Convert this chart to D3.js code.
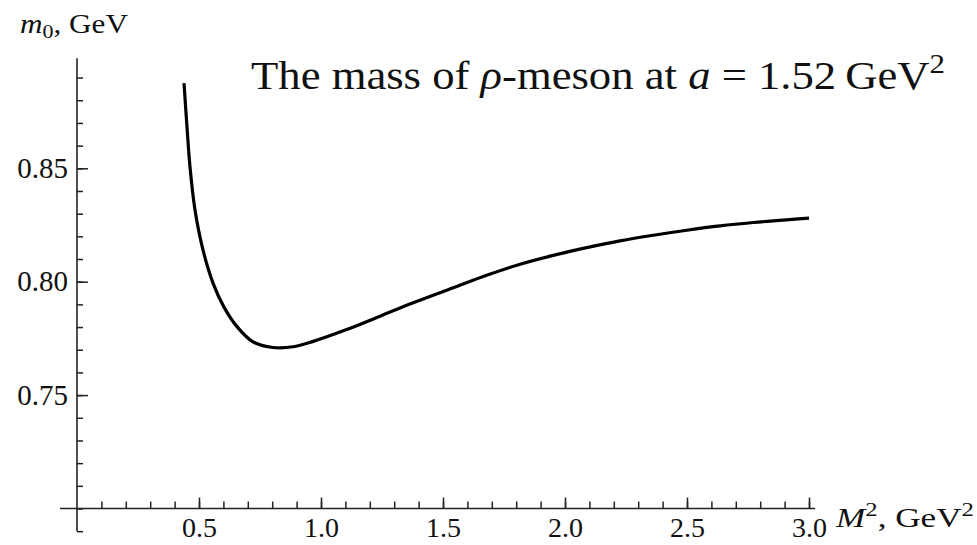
<!DOCTYPE html>
<html>
<head>
<meta charset="utf-8">
<script src="https://cdn.jsdelivr.net/npm/d3@7"></script>
<style>
  html, body { margin: 0; padding: 0; background: #fff; }
  svg { display: block; }
  text { font-family: "Liberation Serif", "Times New Roman", serif; fill: #111; }
</style>
</head>
<body>
<svg id="chart" width="977" height="545"></svg>
<script>
// Borel parameter M^2 (GeV^2) and the resulting rho-meson mass m0 (GeV)
const mSq = [0.4385, 0.4508, 0.4631, 0.4836, 0.5164, 0.5574, 0.6025, 0.6557, 0.7213, 0.8033,
             0.8852, 0.968, 1.105, 1.242, 1.378, 1.542, 1.679, 1.816, 1.952, 2.089,
             2.225, 2.362, 2.499, 2.635, 2.772, 2.908, 3.000];
const m0  = [0.8876, 0.8682, 0.8506, 0.8316, 0.8140, 0.7994, 0.7888, 0.7802, 0.7735, 0.7710,
             0.7713, 0.7737, 0.7789, 0.7848, 0.7907, 0.7973, 0.8028, 0.8077, 0.8116, 0.8150,
             0.8180, 0.8205, 0.8227, 0.8246, 0.8261, 0.8273, 0.8280];

// Tick values
const xMajorTicks = [0.5, 1.0, 1.5, 2.0, 2.5, 3.0];
const xMinorTicks = d3.range(1, 31).map(i => i / 10);
const yMajorTicks = [0.75, 0.80, 0.85];
const yMinorTicks = d3.range(69, 90).map(i => i / 100);

// Axis extents (axes cross at (0, 0.70))
const xAxisExtent = [-0.07, 3.025];
const yAxisExtent = [0.6900, 0.8985];
const xOrigin = 0, yOrigin = 0.70;

const svg = d3.select("#chart");

const x = d3.scaleLinear().domain([0, 3]).range([77, 809]);
const y = d3.scaleLinear().domain([0.70, 0.85]).range([508.5, 168.3]);

const axisColor = "#222";
const tickFont = '"Liberation Serif", serif';

// ---- x axis ----
const gx = svg.append("g").attr("transform", `translate(0,${y(yOrigin)})`);
gx.append("line")
  .attr("x1", x(xAxisExtent[0])).attr("x2", x(xAxisExtent[1]))
  .attr("stroke", axisColor).attr("stroke-width", 1.6);
gx.append("g")
  .call(d3.axisBottom(x).tickValues(xMinorTicks).tickSize(-7).tickSizeOuter(0).tickFormat(""))
  .call(g => g.select(".domain").remove())
  .call(g => g.selectAll(".tick line").attr("stroke", axisColor).attr("stroke-width", 1.5));
gx.append("g")
  .call(d3.axisBottom(x).tickValues(xMajorTicks).tickSize(-11).tickSizeOuter(0)
          .tickPadding(9).tickFormat(d3.format(".1f")))
  .call(g => g.select(".domain").remove())
  .call(g => g.selectAll(".tick line").attr("stroke", axisColor).attr("stroke-width", 1.5))
  .call(g => g.selectAll(".tick text")
              .style("font-family", tickFont)
              .style("font-size", "28px").attr("fill", "#111"));

// ---- y axis ----
const gy = svg.append("g").attr("transform", `translate(${x(xOrigin)},0)`);
gy.append("line")
  .attr("y1", y(yAxisExtent[0])).attr("y2", y(yAxisExtent[1]))
  .attr("stroke", axisColor).attr("stroke-width", 1.6);
gy.append("g")
  .call(d3.axisLeft(y).tickValues(yMinorTicks).tickSize(-6).tickSizeOuter(0).tickFormat(""))
  .call(g => g.select(".domain").remove())
  .call(g => g.selectAll(".tick line").attr("stroke", axisColor).attr("stroke-width", 1.5));
gy.append("g")
  .call(d3.axisLeft(y).tickValues(yMajorTicks).tickSize(-11).tickSizeOuter(0)
          .tickPadding(9).tickFormat(d3.format(".2f")))
  .call(g => g.select(".domain").remove())
  .call(g => g.selectAll(".tick line").attr("stroke", axisColor).attr("stroke-width", 1.5))
  .call(g => g.selectAll(".tick text")
              .style("font-family", tickFont)
              .style("font-size", "29px").attr("fill", "#111"));

// ---- curve ----
const line = d3.line()
  .x((d, i) => x(mSq[i]))
  .y((d, i) => y(m0[i]))
  .curve(d3.curveCatmullRom.alpha(0.5));
svg.append("path")
  .attr("d", line(mSq))
  .attr("fill", "none")
  .attr("stroke", "#000")
  .attr("stroke-width", 3.2)
  .attr("stroke-linejoin", "round");

// ---- axis labels ----
const yLab = svg.append("text").attr("x", 20).attr("y", 33).style("font-size", "27px")
  .attr("textLength", 108).attr("lengthAdjust", "spacingAndGlyphs");
yLab.append("tspan").style("font-style", "italic").text("m");
yLab.append("tspan").attr("dy", 5).style("font-size", "19px").text("0");
yLab.append("tspan").attr("dy", -5).text(", GeV");

const xLab = svg.append("text").attr("x", 836).attr("y", 527).style("font-size", "27px")
  .attr("textLength", 138).attr("lengthAdjust", "spacingAndGlyphs");
xLab.append("tspan").style("font-style", "italic").text("M");
xLab.append("tspan").attr("dy", -11).style("font-size", "19px").text("2");
xLab.append("tspan").attr("dy", 11).text(", GeV");
xLab.append("tspan").attr("dy", -11).style("font-size", "19px").text("2");

// ---- title ----
const title = svg.append("text").attr("x", 251).attr("y", 89).style("font-size", "39px")
  .attr("textLength", 694).attr("lengthAdjust", "spacingAndGlyphs");
title.append("tspan").text("The mass of ");
title.append("tspan").style("font-style", "italic").text("\u03C1");
title.append("tspan").text("-meson at ");
title.append("tspan").style("font-style", "italic").text("a");
title.append("tspan").text(" = 1.52\u2009GeV");
title.append("tspan").attr("dy", -16).style("font-size", "27px").text("2");
</script>
</body>
</html>
